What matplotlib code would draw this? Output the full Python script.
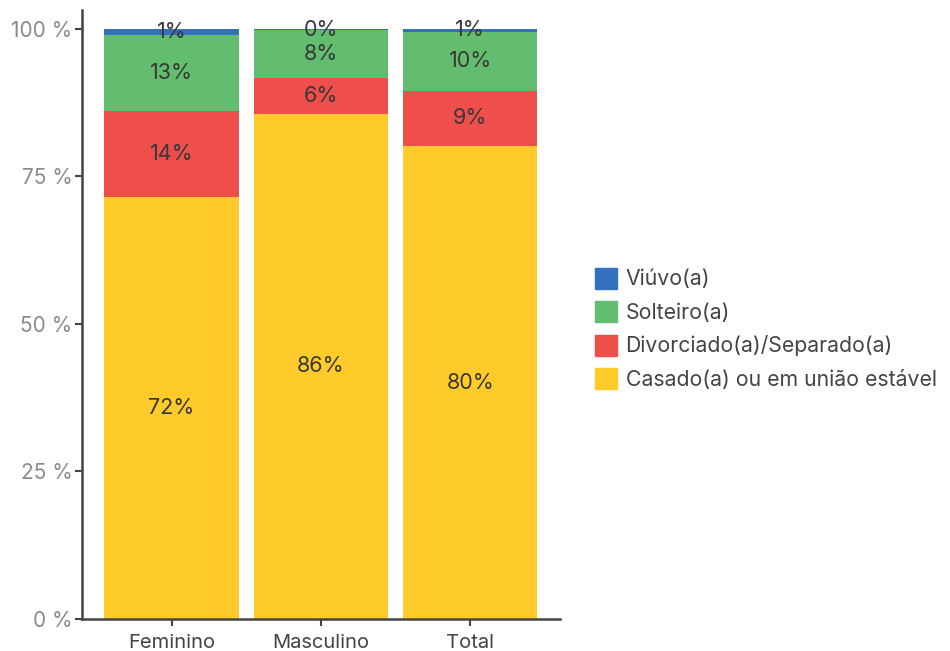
import numpy as np
import matplotlib.pyplot as plt
from matplotlib.patches import Patch

plt.rcParams['font.family'] = ['Inter', 'DejaVu Sans']

groups = ['Feminino', 'Masculino', 'Total']
categories = ['Casado(a) ou em união estável', 'Divorciado(a)/Separado(a)', 'Solteiro(a)', 'Viúvo(a)']
casado = [71.5, 85.6, 80.1]
divorciado = [14.5, 6.1, 9.4]
solteiro = [12.9, 8.0, 9.9]
viuvo = [1.1, 0.3, 0.6]
colors = ['#FECB2A', '#EF4F4A', '#62BE6E', '#3370BF']

series = [casado, divorciado, solteiro, viuvo]

fig = plt.figure(figsize=(9.5, 6.51), dpi=100)
ax = fig.add_axes([0.0863, 0.049, 0.503, 0.936])

x = np.arange(len(groups))
bottom = np.zeros(len(groups))
for vals, col in zip(series, colors):
    vals = np.array(vals)
    ax.bar(x, vals, 0.9, bottom=bottom, color=col)
    for xi, b, v in zip(x, bottom, vals):
        ax.text(xi, b + v / 2, f'{v:.0f}%', ha='center', va='center',
                fontsize=15.5, color='#383838')
    bottom += vals

ax.set_xlim(-0.6, 2.6)
ax.set_ylim(0, 103.2)
ax.set_yticks([0, 25, 50, 75, 100])
ax.set_yticklabels([f'{t} %' for t in [0, 25, 50, 75, 100]])
ax.set_xticks(x)
ax.set_xticklabels(groups)
ax.tick_params(axis='y', labelsize=15, labelcolor='#8a8a8a', color='#444444', width=1.5, length=5, pad=2)
ax.tick_params(axis='x', labelsize=14.5, labelcolor='#444444', color='#444444', width=1.5, length=5, pad=6)
for s in ['top', 'right']:
    ax.spines[s].set_visible(False)
for s in ['left', 'bottom']:
    ax.spines[s].set_color('#444444')
    ax.spines[s].set_linewidth(1.8)

handles = [Patch(color=c, label=l) for c, l in zip(colors, categories)][::-1]
fig.legend(handles=handles, loc='center left', bbox_to_anchor=(0.626, 0.495), frameon=False,
           fontsize=15.3, handlelength=1.05, handleheight=1.15, handletextpad=0.4,
           labelspacing=0.55, labelcolor='#444444', borderaxespad=0, borderpad=0)

fig.savefig('out.png', dpi=100)
